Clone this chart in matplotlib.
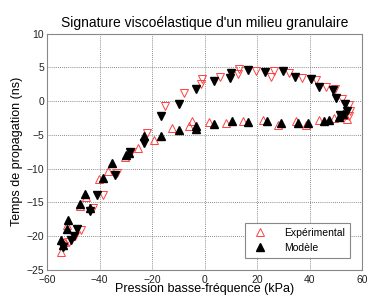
import matplotlib
matplotlib.use("Agg")
import matplotlib.pyplot as plt
from matplotlib.lines import Line2D

plt.rcParams['font.family'] = ['Liberation Sans', 'DejaVu Sans']

# --------------------------- data ---------------------------------
# model, rising pressure (filled up triangles)
model_up_x = [-54.6, -54.0, -52.3, -52.1, -47.6, -45.7, -43.7, -38.9, -35.4,
              -30.0, -28.8, -23.0, -16.5, -10.0, -3.4, -3.2, 3.5, 10.5, 16.5,
              23.5, 29.1, 35.6, 39.4, 45.3, 47.2, 51.0, 52.5]
model_up_y = [-20.6, -21.3, -19.0, -17.6, -15.2, -13.7, -15.8, -11.4, -9.2,
              -8.0, -7.7, -5.2, -5.1, -4.2, -3.7, -4.1, -3.4, -3.0, -3.15,
              -3.0, -3.25, -3.25, -3.25, -2.9, -2.75, -2.3, -1.9]

# model, falling pressure (filled down triangles)
model_dn_x = [53.5, 54.2, 52.3, 51.5, 50.0, 48.7, 43.4, 40.6, 34.2, 29.7,
              22.9, 16.6, 10.1, 9.6, 3.5, -3.2, -10.0, -16.7, -23.0, -28.6,
              -34.2, -40.9, -43.7, -48.5, -49.6, -50.9, -54.0]
model_dn_y = [-0.4, -1.5, -2.25, -2.0, 0.5, 1.6, 2.1, 3.25, 3.6, 4.5,
              4.35, 4.6, 4.1, 3.5, 3.0, 1.85, -0.4, -2.25, -6.2, -7.5,
              -10.9, -13.9, -16.2, -19.0, -19.9, -20.5, -21.6]

# experiment, rising pressure (open up triangles)
exp_up_x = [-54.9, -53.5, -52.5, -47.4, -45.3, -40.1, -36.8, -30.5, -25.6,
            -19.3, -12.3, -5.9, -4.7, 1.6, 8.0, 14.6, 22.2, 27.8, 34.6, 38.4,
            43.4, 49.1, 54.2, 53.0]
exp_up_y = [-22.3, -20.8, -18.3, -15.5, -14.2, -11.5, -10.4, -8.3, -7.0,
            -5.7, -4.0, -3.75, -3.0, -3.1, -3.25, -2.9, -2.85, -3.5, -3.0,
            -3.5, -2.75, -2.5, -2.6, -2.0]

# experiment, falling pressure (open down triangles)
exp_dn_x = [55.4, 54.8, 54.8, 52.3, 49.7, 46.0, 42.2, 37.1, 32.2, 26.3, 25.3,
            19.6, 13.2, 12.7, 5.7, -0.9, -1.3, -8.1, -15.2, -21.8, -28.0,
            -33.5, -38.9, -42.5, -47.1, -49.5, -51.5, -53.5]
exp_dn_y = [-1.5, -0.5, -2.25, 0.25, 1.75, 2.1, 3.15, 3.5, 4.1, 4.5, 3.6,
            4.5, 4.75, 4.0, 3.6, 3.25, 2.5, 1.25, -0.75, -4.7, -7.5,
            -10.6, -13.9, -15.8, -19.1, -20.0, -20.8, -21.5]

x_ticks = [-60, -40, -20, 0, 20, 40, 60]
y_ticks = [-25, -20, -15, -10, -5, 0, 5, 10]


def main():
    fig = plt.figure(figsize=(3.68, 3.0), dpi=100)
    ax = fig.add_axes([0.128, 0.10, 0.857, 0.788])

    red = '#ff4040'
    ms = 6
    ax.plot(exp_up_x, exp_up_y, '^', ms=ms, mfc='none', mec=red, mew=0.7)
    ax.plot(exp_dn_x, exp_dn_y, 'v', ms=ms, mfc='none', mec=red, mew=0.7)
    ax.plot(model_up_x, model_up_y, '^', ms=ms - 0.5, color='black')
    ax.plot(model_dn_x, model_dn_y, 'v', ms=ms - 0.5, color='black')

    ax.set_xlim(-60, 60)
    ax.set_ylim(-25, 10)
    ax.set_xticks(x_ticks)
    ax.set_yticks(y_ticks)
    ax.tick_params(length=0, labelsize=7.5, colors='#222222')
    ax.tick_params(axis='x', pad=3.5)
    ax.tick_params(axis='y', pad=2)
    ax.grid(True, color='#666666', linestyle=(0, (1, 1.5)), linewidth=0.6)
    for s in ax.spines.values():
        s.set_color('#888888')
        s.set_linewidth(0.8)

    ax.set_title("Signature viscoélastique d'un milieu granulaire",
                 fontsize=10, pad=5)
    ax.set_xlabel("Pression basse-fréquence (kPa)", fontsize=9, labelpad=-1)
    ax.set_ylabel("Temps de propagation (ns)", fontsize=9, labelpad=3)

    handles = [
        Line2D([], [], marker='^', ls='none', ms=ms, mfc='none', mec=red,
               mew=0.7),
        Line2D([], [], marker='^', ls='none', ms=ms - 0.5, color='black'),
    ]
    leg = ax.legend(handles, ['Expérimental', 'Modèle'], loc='lower right',
                    bbox_to_anchor=(0.977, 0.03), fontsize=7.5, fancybox=False,
                    framealpha=1, edgecolor='#888888', handletextpad=1.3,
                    borderpad=0.45, labelspacing=0.5)
    leg.get_frame().set_linewidth(0.8)

    fig.savefig('out.png', dpi=100)


if __name__ == "__main__":
    main()
